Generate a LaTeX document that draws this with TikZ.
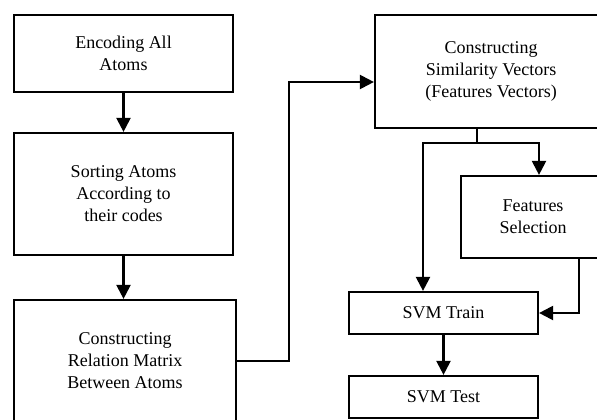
\documentclass[tikz,border=0pt]{standalone}
\usepackage{fontspec}
\setmainfont{Liberation Serif}
\usetikzlibrary{arrows.meta}

\tikzset{
    box/.style={draw, line width=2.2pt, align=center, inner sep=0pt,
        font=\fontsize{18}{22}\selectfont},
    arr/.style={line width=2.2pt, -{Triangle[length=14pt,width=14pt]}}
}

\begin{document}
\begin{tikzpicture}[x=1pt,y=-1pt]

    \useasboundingbox (0,0) rectangle (597,420);

    %left column:
    \node[box, minimum width=219pt, minimum height=77pt] (enc) at (123.5,53.5) {Encoding All\\Atoms};
    \node[box, minimum width=219pt, minimum height=122pt] (sort) at (123.5,194) {Sorting Atoms\\According to\\their codes};
    \node[box, minimum width=222pt, minimum height=122pt] (rel) at (125,361) {Constructing\\Relation Matrix\\Between Atoms};

    %right column:
    \node[box, minimum width=232pt, minimum height=113pt] (sim) at (491,71.5) {Constructing\\Similarity Vectors\\(Features Vectors)};
    \node[box, minimum width=144pt, minimum height=82pt] (feat) at (533,217) {Features\\Selection};
    \node[box, minimum width=189pt, minimum height=42pt] (train) at (443.5,313) {SVM Train};
    \node[box, minimum width=189pt, minimum height=42pt] (test) at (443.5,397) {SVM Test};

    %bends and the fork:
    \coordinate (bend) at (289,82);
    \coordinate (split) at (477,143);
    \coordinate (lft) at (423,143);
    \coordinate (rgt) at (539,143);

    %draw arrows:
    \draw[arr] (enc) -- (sort);
    \draw[arr] (sort.south -| enc) -- (sort.south |- rel.north);
    \draw[arr] (rel.east) -| (bend) -- (bend -| sim.west);
    \draw[line width=2.2pt] (sim.south -| split) -- (split);
    \draw[arr] (split) -| (lft |- train.north);
    \draw[arr] (split) -| (rgt |- feat.north);
    \draw[arr] ([xshift=46pt]feat.south) |- (train.east);
    \draw[arr] (train.south) -- (test.north);

\end{tikzpicture}
\end{document}
